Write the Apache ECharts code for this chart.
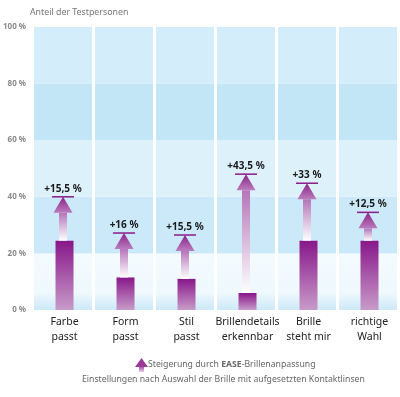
<!DOCTYPE html>
<html>
<head>
<meta charset="utf-8">
<style>
  html, body { margin: 0; padding: 0; background: #fff; }
  #chart { width: 400px; height: 397px; }
</style>
<script src="https://cdn.jsdelivr.net/npm/echarts@6/dist/echarts.min.js"></script>
</head>
<body>
<div id="chart"></div>
<script>
// values (percent of test persons)
const categories = ['Farbe\npasst', 'Form\npasst', 'Stil\npasst', 'Brillendetails\nerkennbar', 'Brille\nsteht mir', 'richtige\nWahl']
const baseValues = [24.5, 11.5, 11, 6, 24.5, 24.5]
const arrowTops = [40, 27.2, 26.5, 48, 44.8, 34.5]
const gainLabels = ['+15,5 %', '+16 %', '+15,5 %', '+43,5 %', '+33 %', '+12,5 %']
const bandEdges = [0, 20, 40, 60, 80, 100]

const font = '"Noto Sans", "Open Sans", sans-serif'
const bandColors = [
  new echarts.graphic.LinearGradient(0, 0, 0, 1, [
    { offset: 0, color: '#f4fbfe' },
    { offset: 0.7, color: '#eef8fd' },
    { offset: 1, color: '#cde9f8' }
  ]),
  '#cbe9f8',
  '#ddf1fb',
  '#c3e6f7',
  '#d3edfa'
]

const chart = echarts.init(document.getElementById('chart'))

function renderBackground(params, api) {
  const i = api.value(0)
  const cx = api.coord([i, 0])[0]
  const bw = api.size([1, 0])[0]
  const x0 = cx - bw / 2
  const children = []
  for (let k = 0; k < bandEdges.length - 1; k++) {
    const yLo = api.coord([i, bandEdges[k]])[1]
    const yHi = api.coord([i, bandEdges[k + 1]])[1]
    children.push({
      type: 'rect',
      shape: { x: x0, y: yHi, width: bw - 3, height: yLo - yHi },
      style: { fill: bandColors[k] }
    })
  }
  return { type: 'group', children: children }
}

function renderArrow(params, api) {
  const i = api.value(0)
  const cx = api.coord([i, 0])[0] - 1.5
  const yBar = api.coord([i, api.value(1)])[1]
  const yTop = api.coord([i, api.value(2)])[1]
  const headH = 16
  const headW = 19
  const shaftW = 8
  return {
    type: 'group',
    children: [
      {
        type: 'rect',
        shape: { x: cx - shaftW / 2, y: yTop + headH, width: shaftW, height: yBar - yTop - headH },
        style: {
          fill: new echarts.graphic.LinearGradient(0, 0, 0, 1, [
            { offset: 0, color: '#b574b8' },
            { offset: 1, color: 'rgba(255,255,255,0.95)' }
          ])
        }
      },
      {
        type: 'polygon',
        shape: { points: [[cx, yTop], [cx + headW / 2, yTop + headH], [cx - headW / 2, yTop + headH]] },
        style: {
          fill: new echarts.graphic.LinearGradient(0, 0, 0, 1, [
            { offset: 0, color: '#8a2189' },
            { offset: 1, color: '#bb7dbd' }
          ])
        }
      },
      {
        type: 'line',
        shape: { x1: cx - 11, y1: yTop, x2: cx + 11, y2: yTop },
        style: { stroke: '#8a1a8a', lineWidth: 1.5 }
      },
      {
        type: 'text',
        style: {
          x: cx, y: yTop - 3,
          text: gainLabels[i],
          align: 'center', verticalAlign: 'bottom',
          font: 'bold 10px ' + font,
          fill: '#1a1a1a'
        }
      }
    ]
  }
}

chart.setOption({
  animation: false,
  grid: { left: 30, right: 0, top: 27, bottom: 87 },
  xAxis: {
    type: 'category',
    data: categories,
    axisLine: { show: false },
    axisTick: { show: false },
    axisLabel: {
      color: '#222', fontSize: 10.5, fontFamily: font,
      lineHeight: 15, margin: 5, interval: 0
    }
  },
  yAxis: {
    type: 'value',
    min: 0, max: 100, interval: 20,
    splitLine: { show: false },
    axisLine: { show: false },
    axisLabel: {
      formatter: '{value} %', color: '#8a8a8a', fontSize: 8,
      fontWeight: 'bold', fontFamily: font, margin: 8
    }
  },
  graphic: [
    {
      type: 'text', left: 30, top: 8,
      style: { text: 'Anteil der Testpersonen', font: '8.8px ' + font, fill: '#777' }
    },
    {
      type: 'group', left: 135, top: 358,
      children: [
        {
          type: 'polygon',
          shape: { points: [[6.5, 0], [13, 9], [0, 9]] },
          style: { fill: '#9a3b9c' }
        },
        {
          type: 'rect',
          shape: { x: 4, y: 9, width: 5, height: 5 },
          style: {
            fill: new echarts.graphic.LinearGradient(0, 0, 0, 1, [
              { offset: 0, color: '#a85aab' },
              { offset: 1, color: '#e6cfe8' }
            ])
          }
        }
      ]
    },
    {
      type: 'text', left: 148, top: 360,
      style: {
        text: '{a|Steigerung durch }{b|EASE}{a|-Brillenanpassung}',
        rich: {
          a: { font: '8.7px ' + font, fill: '#666' },
          b: { font: 'bold 8.7px ' + font, fill: '#666' }
        }
      }
    },
    {
      type: 'text', left: 82, top: 375,
      style: {
        text: 'Einstellungen nach Auswahl der Brille mit aufgesetzten Kontaktlinsen',
        font: '8.7px ' + font, fill: '#666'
      }
    }
  ],
  series: [
    {
      type: 'custom',
      renderItem: renderBackground,
      data: categories.map((c, i) => [i]),
      encode: { x: 0 },
      silent: true,
      z: 0
    },
    {
      type: 'bar',
      data: baseValues,
      barWidth: 18,
      barGap: '-100%',
      itemStyle: {
        color: new echarts.graphic.LinearGradient(0, 0, 0, 1, [
          { offset: 0, color: '#88178a' },
          { offset: 1, color: '#c89bc9' }
        ])
      },
      z: 2
    },
    {
      type: 'custom',
      renderItem: renderArrow,
      data: categories.map((c, i) => [i, baseValues[i], arrowTops[i]]),
      encode: { x: 0, y: [1, 2] },
      z: 3
    }
  ]
})
</script>
</body>
</html>
